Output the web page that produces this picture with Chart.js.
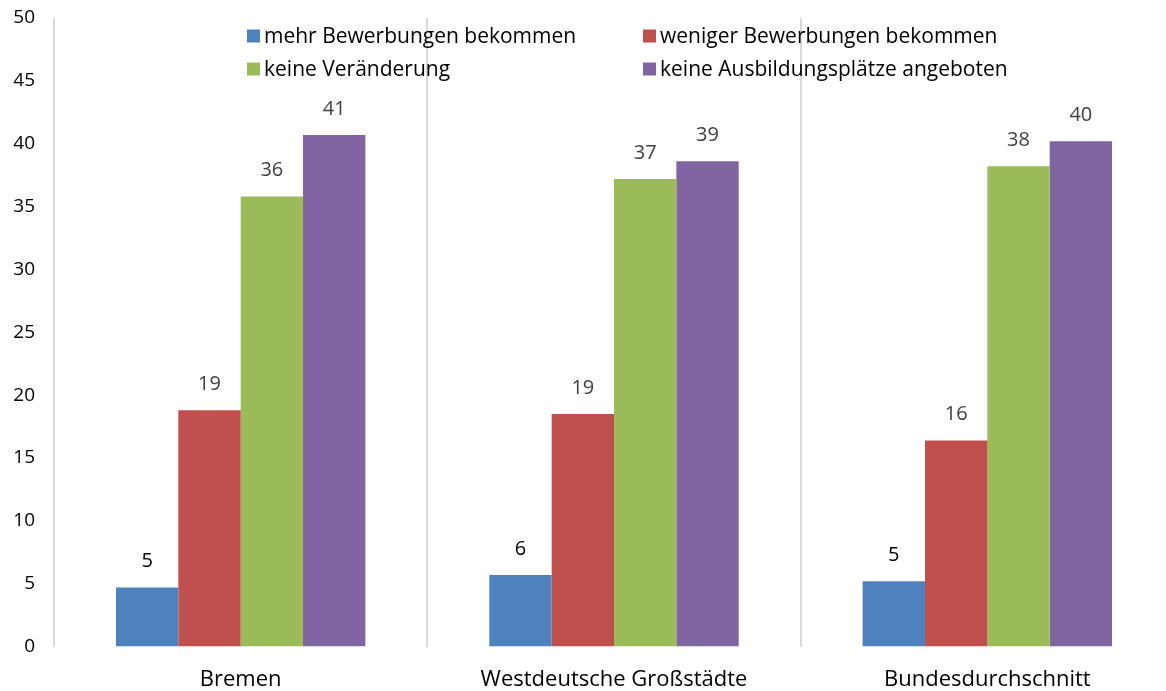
<!DOCTYPE html>
<html>
<head>
<meta charset="utf-8">
<script src="https://cdn.jsdelivr.net/npm/chart.js@4/dist/chart.umd.min.js"></script>
<style>
  html, body { margin: 0; padding: 0; background: #fff; overflow: hidden; }
  #wrap { width: 1174px; height: 691px; }
</style>
</head>
<body>
<div id="wrap"><canvas id="c" width="1174" height="691"></canvas></div>
<script>
const categories = ['Bremen', 'Westdeutsche Großstädte', 'Bundesdurchschnitt'];
const seriesNames = ['mehr Bewerbungen bekommen', 'weniger Bewerbungen bekommen', 'keine Veränderung', 'keine Ausbildungsplätze angeboten'];
const mehrBewerbungen = [4.7, 5.7, 5.2];
const wenigerBewerbungen = [18.8, 18.5, 16.4];
const keineVeraenderung = [35.8, 37.2, 38.2];
const keineAusbildung = [40.7, 38.6, 40.2];
const colors = ['#4F81BD', '#C0504D', '#9BBB59', '#8064A2'];
const labelColors = ['#000000', '#404040', '#404040', '#404040'];
const FONT = "'Open Sans', sans-serif";

const legendPlugin = {
  id: 'gridLegend',
  afterDraw(chart) {
    const ctx = chart.ctx;
    const pos = [[247, 36], [643, 36], [247, 69], [643, 69]];
    ctx.save();
    ctx.font = '21px ' + FONT;
    ctx.textBaseline = 'middle';
    ctx.textAlign = 'left';
    chart.data.datasets.forEach((ds, i) => {
      const [x, y] = pos[i];
      ctx.fillStyle = ds.backgroundColor;
      ctx.fillRect(x, y - 6.5, 13, 13);
      ctx.fillStyle = '#000';
      ctx.fillText(ds.label, x + 17, y + 1);
    });
    ctx.restore();
  }
};

const valueLabels = {
  id: 'valueLabels',
  afterDatasetsDraw(chart) {
    const ctx = chart.ctx;
    ctx.save();
    ctx.font = '20px ' + FONT;
    ctx.textAlign = 'center';
    ctx.textBaseline = 'middle';
    chart.data.datasets.forEach((ds, i) => {
      const meta = chart.getDatasetMeta(i);
      meta.data.forEach((bar, j) => {
        ctx.fillStyle = labelColors[i];
        ctx.fillText(String(Math.round(ds.data[j])), bar.x, bar.y - 26);
      });
    });
    ctx.restore();
  }
};

new Chart(document.getElementById('c'), {
  type: 'bar',
  data: {
    labels: categories,
    datasets: [
      { label: seriesNames[0], data: mehrBewerbungen, backgroundColor: colors[0] },
      { label: seriesNames[1], data: wenigerBewerbungen, backgroundColor: colors[1] },
      { label: seriesNames[2], data: keineVeraenderung, backgroundColor: colors[2] },
      { label: seriesNames[3], data: keineAusbildung, backgroundColor: colors[3] }
    ]
  },
  options: {
    responsive: false,
    animation: false,
    events: [],
    layout: { padding: { top: 18, right: 0, bottom: -22, left: 0 } },
    datasets: { bar: { categoryPercentage: 0.668, barPercentage: 1.0, borderWidth: 0 } },
    plugins: { legend: { display: false }, tooltip: { enabled: false } },
    scales: {
      x: {
        grid: { display: true, offset: true, color: '#d9d9d9', lineWidth: 2, drawTicks: false },
        border: { display: false },
        ticks: { color: '#000', font: { family: FONT, size: 22 }, padding: 20 }
      },
      y: {
        min: 0, max: 50,
        afterFit(scale) { scale.width = 54; scale.paddingTop = 0; scale.paddingBottom = 0; },
        grid: { display: false },
        border: { display: false },
        ticks: { stepSize: 5, color: '#000', font: { family: FONT, size: 19 }, padding: 11 }
      }
    }
  },
  plugins: [legendPlugin, valueLabels]
});
</script>
</body>
</html>
